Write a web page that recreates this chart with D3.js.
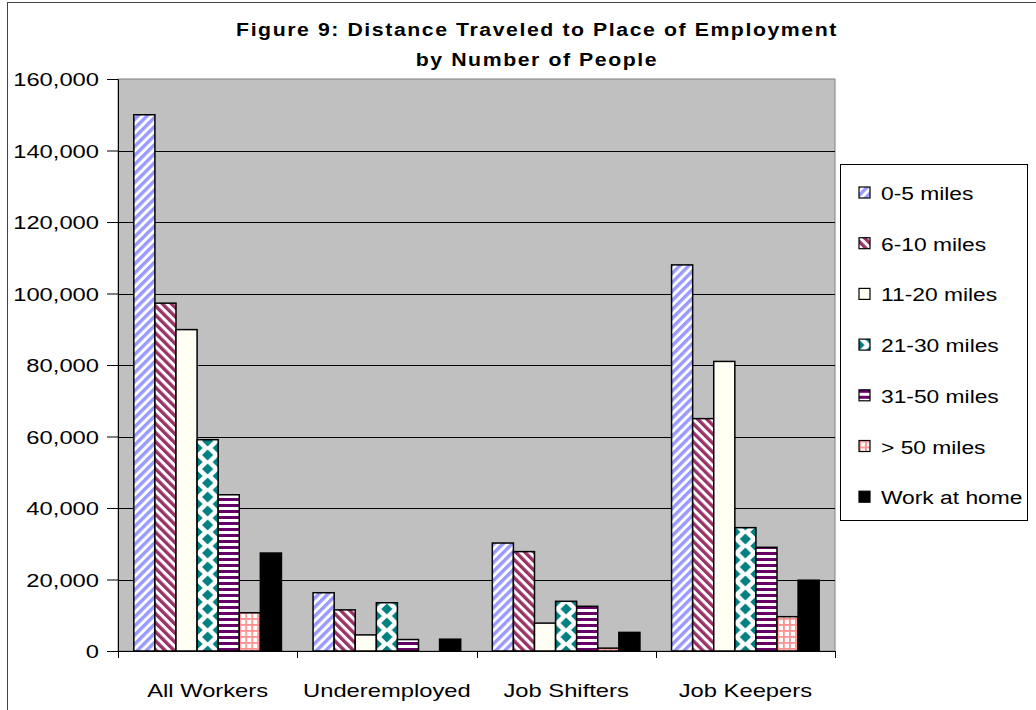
<!DOCTYPE html>
<html>
<head>
<meta charset="utf-8">
<script src="https://cdn.jsdelivr.net/npm/d3@7/dist/d3.min.js"></script>
<style>
  html, body { margin: 0; padding: 0; background: #fff; }
  svg { display: block; font-family: "Liberation Sans", Arial, sans-serif; }
</style>
</head>
<body>
<svg id="chart" width="1036" height="710"></svg>
<script>
// Workers by commuting distance, per worker group
const categories = ["All Workers", "Underemployed", "Job Shifters", "Job Keepers"];
const seriesNames = ["0-5 miles", "6-10 miles", "11-20 miles", "21-30 miles", "31-50 miles", "> 50 miles", "Work at home"];
const miles0to5   = [150000, 16300, 30200, 108000];
const miles6to10  = [97300, 11500, 27800, 65000];
const miles11to20 = [89900, 4500, 7800, 81000];
const miles21to30 = [59100, 13500, 13900, 34500];
const miles31to50 = [43700, 3200, 12500, 29000];
const milesOver50 = [10700, 0, 800, 9600];
const workAtHome  = [27400, 3300, 5200, 19800];
const seriesValues = [miles0to5, miles6to10, miles11to20, miles21to30, miles31to50, milesOver50, workAtHome];
const yTicks = [0, 20000, 40000, 60000, 80000, 100000, 120000, 140000, 160000];
const titleLines = ["Figure 9: Distance Traveled to Place of Employment", "by Number of People"];

const FONT = "'Liberation Sans', Arial, sans-serif";
const svg = d3.select("#chart");
const plot = { left: 118, right: 835, top: 79, bottom: 651 };
const TX = 1.25; // horizontal text stretch

// ---- fill patterns ----
const defs = svg.append("defs");
function stripePattern(id, color, angle) {
  const s = 6.4;
  const p = defs.append("pattern").attr("id", id).attr("patternUnits", "userSpaceOnUse")
    .attr("width", s).attr("height", s).attr("patternTransform", `rotate(${angle})`);
  p.append("rect").attr("width", s).attr("height", s).attr("fill", "#fff");
  p.append("rect").attr("x", 0).attr("width", 3.4).attr("height", s).attr("fill", color);
}
stripePattern("p0", "#9999FF", 45);
stripePattern("p1", "#993366", -45);
{
  const p = defs.append("pattern").attr("id", "p2").attr("patternUnits", "userSpaceOnUse")
    .attr("width", 8).attr("height", 8);
  p.append("rect").attr("width", 8).attr("height", 8).attr("fill", "#fffff8");
  p.append("circle").attr("cx", 2).attr("cy", 2).attr("r", 0.9).attr("fill", "#FFFFCC");
  p.append("circle").attr("cx", 6).attr("cy", 6).attr("r", 0.9).attr("fill", "#FFFFCC");
}
function diamondPattern(bw) {
  const h = 14, w = bw;
  const p = defs.append("pattern").attr("id", "p3").attr("patternUnits", "userSpaceOnUse")
    .attr("width", w).attr("height", h);
  p.append("rect").attr("width", w).attr("height", h).attr("fill", "#fff");
  const dx = 5.6, dy = 5.4;
  [[0, 0], [w, 0], [0, h], [w, h], [w / 2, h / 2]].forEach(([cx, cy]) => {
    p.append("path").attr("d", `M${cx - dx},${cy}L${cx},${cy - dy}L${cx + dx},${cy}L${cx},${cy + dy}Z`)
      .attr("fill", "#008080");
  });
}
{
  const p = defs.append("pattern").attr("id", "p4").attr("patternUnits", "userSpaceOnUse")
    .attr("width", 6).attr("height", 6);
  p.append("rect").attr("width", 6).attr("height", 6).attr("fill", "#fff");
  p.append("rect").attr("y", 0).attr("width", 6).attr("height", 3).attr("fill", "#660066");
}
{
  const p = defs.append("pattern").attr("id", "p5").attr("patternUnits", "userSpaceOnUse")
    .attr("width", 6).attr("height", 6);
  p.append("rect").attr("width", 6).attr("height", 6).attr("fill", "#fff");
  p.append("rect").attr("x", 0).attr("width", 1.8).attr("height", 6).attr("fill", "#FF9090");
  p.append("rect").attr("y", 0).attr("width", 6).attr("height", 1.8).attr("fill", "#FF9090");
}
const fills = ["url(#p0)", "url(#p1)", "url(#p2)", "url(#p3)", "url(#p4)", "url(#p5)", "#000"];

// ---- outer frame ----
svg.append("rect").attr("x", 7.5).attr("y", 2.5).attr("width", 1200).attr("height", 900)
  .attr("fill", "#fff").attr("stroke", "#444").attr("stroke-width", 1);

// ---- scales ----
const x0 = d3.scaleBand().domain(categories).range([plot.left, plot.right]).paddingInner(0).paddingOuter(0);
const x1 = d3.scaleBand().domain(seriesNames).range([0, x0.bandwidth()]).paddingInner(0).paddingOuter(0.75);
const y = d3.scaleLinear().domain([0, 160000]).range([plot.bottom, plot.top]);
diamondPattern(x1.bandwidth());

// ---- plot area ----
svg.append("rect").attr("x", plot.left).attr("y", plot.top)
  .attr("width", plot.right - plot.left).attr("height", plot.bottom - plot.top)
  .attr("fill", "#C0C0C0").attr("stroke", "#808080").attr("stroke-width", 1);

svg.append("g").selectAll("line").data(yTicks.filter(t => t > 0 && t < 160000)).join("line")
  .attr("x1", plot.left).attr("x2", plot.right)
  .attr("y1", d => Math.round(y(d)) + 0.5).attr("y2", d => Math.round(y(d)) + 0.5)
  .attr("stroke", "#000").attr("stroke-width", 1);

// ---- bars ----
const groups = svg.append("g").selectAll("g").data(categories).join("g")
  .attr("transform", d => `translate(${x0(d)},0)`);
groups.each(function (cat, ci) {
  const g = d3.select(this);
  seriesNames.forEach((s, si) => {
    const v = seriesValues[si][ci];
    if (v <= 0) return;
    const bar = g.append("g").attr("transform", `translate(${x1(s)},0)`);
    bar.append("rect").attr("x", 0).attr("y", y(v)).attr("width", x1.bandwidth())
      .attr("height", y(0) - y(v)).attr("fill", fills[si])
      .attr("stroke", "#000").attr("stroke-width", 1.5);
  });
});

// ---- axes ----
const yAxis = svg.append("g").attr("transform", `translate(${plot.left},0)`)
  .call(d3.axisLeft(y).tickValues(yTicks).tickFormat(d3.format(",")).tickSize(11).tickSizeOuter(0).tickPadding(8));
yAxis.select(".domain").attr("stroke", "#000");
yAxis.selectAll(".tick line").attr("stroke", "#000");
yAxis.selectAll(".tick text")
  .attr("font-size", 19).attr("fill", "#000").attr("font-family", FONT)
  .attr("x", 0).attr("dy", "0.36em")
  .attr("transform", `translate(-19,0) scale(${TX},1)`);

const xAxis = svg.append("g").attr("transform", `translate(0,${plot.bottom})`);
xAxis.append("line").attr("x1", plot.left).attr("x2", plot.right).attr("y1", 0.5).attr("y2", 0.5)
  .attr("stroke", "#000");
const bounds = categories.map(c => x0(c)).concat([plot.right]);
xAxis.selectAll("line.tk").data(bounds).join("line").attr("class", "tk")
  .attr("x1", d => Math.round(d) + 0.5).attr("x2", d => Math.round(d) + 0.5)
  .attr("y1", 0).attr("y2", 7).attr("stroke", "#000");
xAxis.selectAll("text").data(categories).join("text")
  .attr("transform", d => `translate(${x0(d) + x0.bandwidth() / 2},46) scale(${TX},1)`)
  .attr("text-anchor", "middle").attr("font-size", 19).attr("font-family", FONT).attr("fill", "#000")
  .text(d => d);

// ---- title ----
svg.append("g").selectAll("text").data(titleLines).join("text")
  .attr("transform", (d, i) => `translate(537,${36 + i * 30}) scale(1.12,1)`)
  .attr("text-anchor", "middle").attr("font-size", 19).attr("font-weight", "bold")
  .attr("font-family", FONT).attr("letter-spacing", 1.4).attr("fill", "#000")
  .text(d => d);

// ---- legend ----
const legend = svg.append("g");
legend.append("rect").attr("x", 840.5).attr("y", 164.5).attr("width", 187).attr("height", 356)
  .attr("fill", "#fff").attr("stroke", "#000").attr("stroke-width", 1);
const items = legend.selectAll("g.item").data(seriesNames).join("g").attr("class", "item")
  .attr("transform", (d, i) => `translate(859,${193 + i * 50.7})`);
items.append("rect").attr("x", 0).attr("y", -6).attr("width", 11).attr("height", 11)
  .attr("fill", (d, i) => fills[i]).attr("stroke", "#000").attr("stroke-width", 1.2);
items.append("text").attr("transform", `translate(22,7) scale(1.2,1)`)
  .attr("font-size", 19).attr("font-family", FONT).attr("fill", "#000").text(d => d);
</script>
</body>
</html>
